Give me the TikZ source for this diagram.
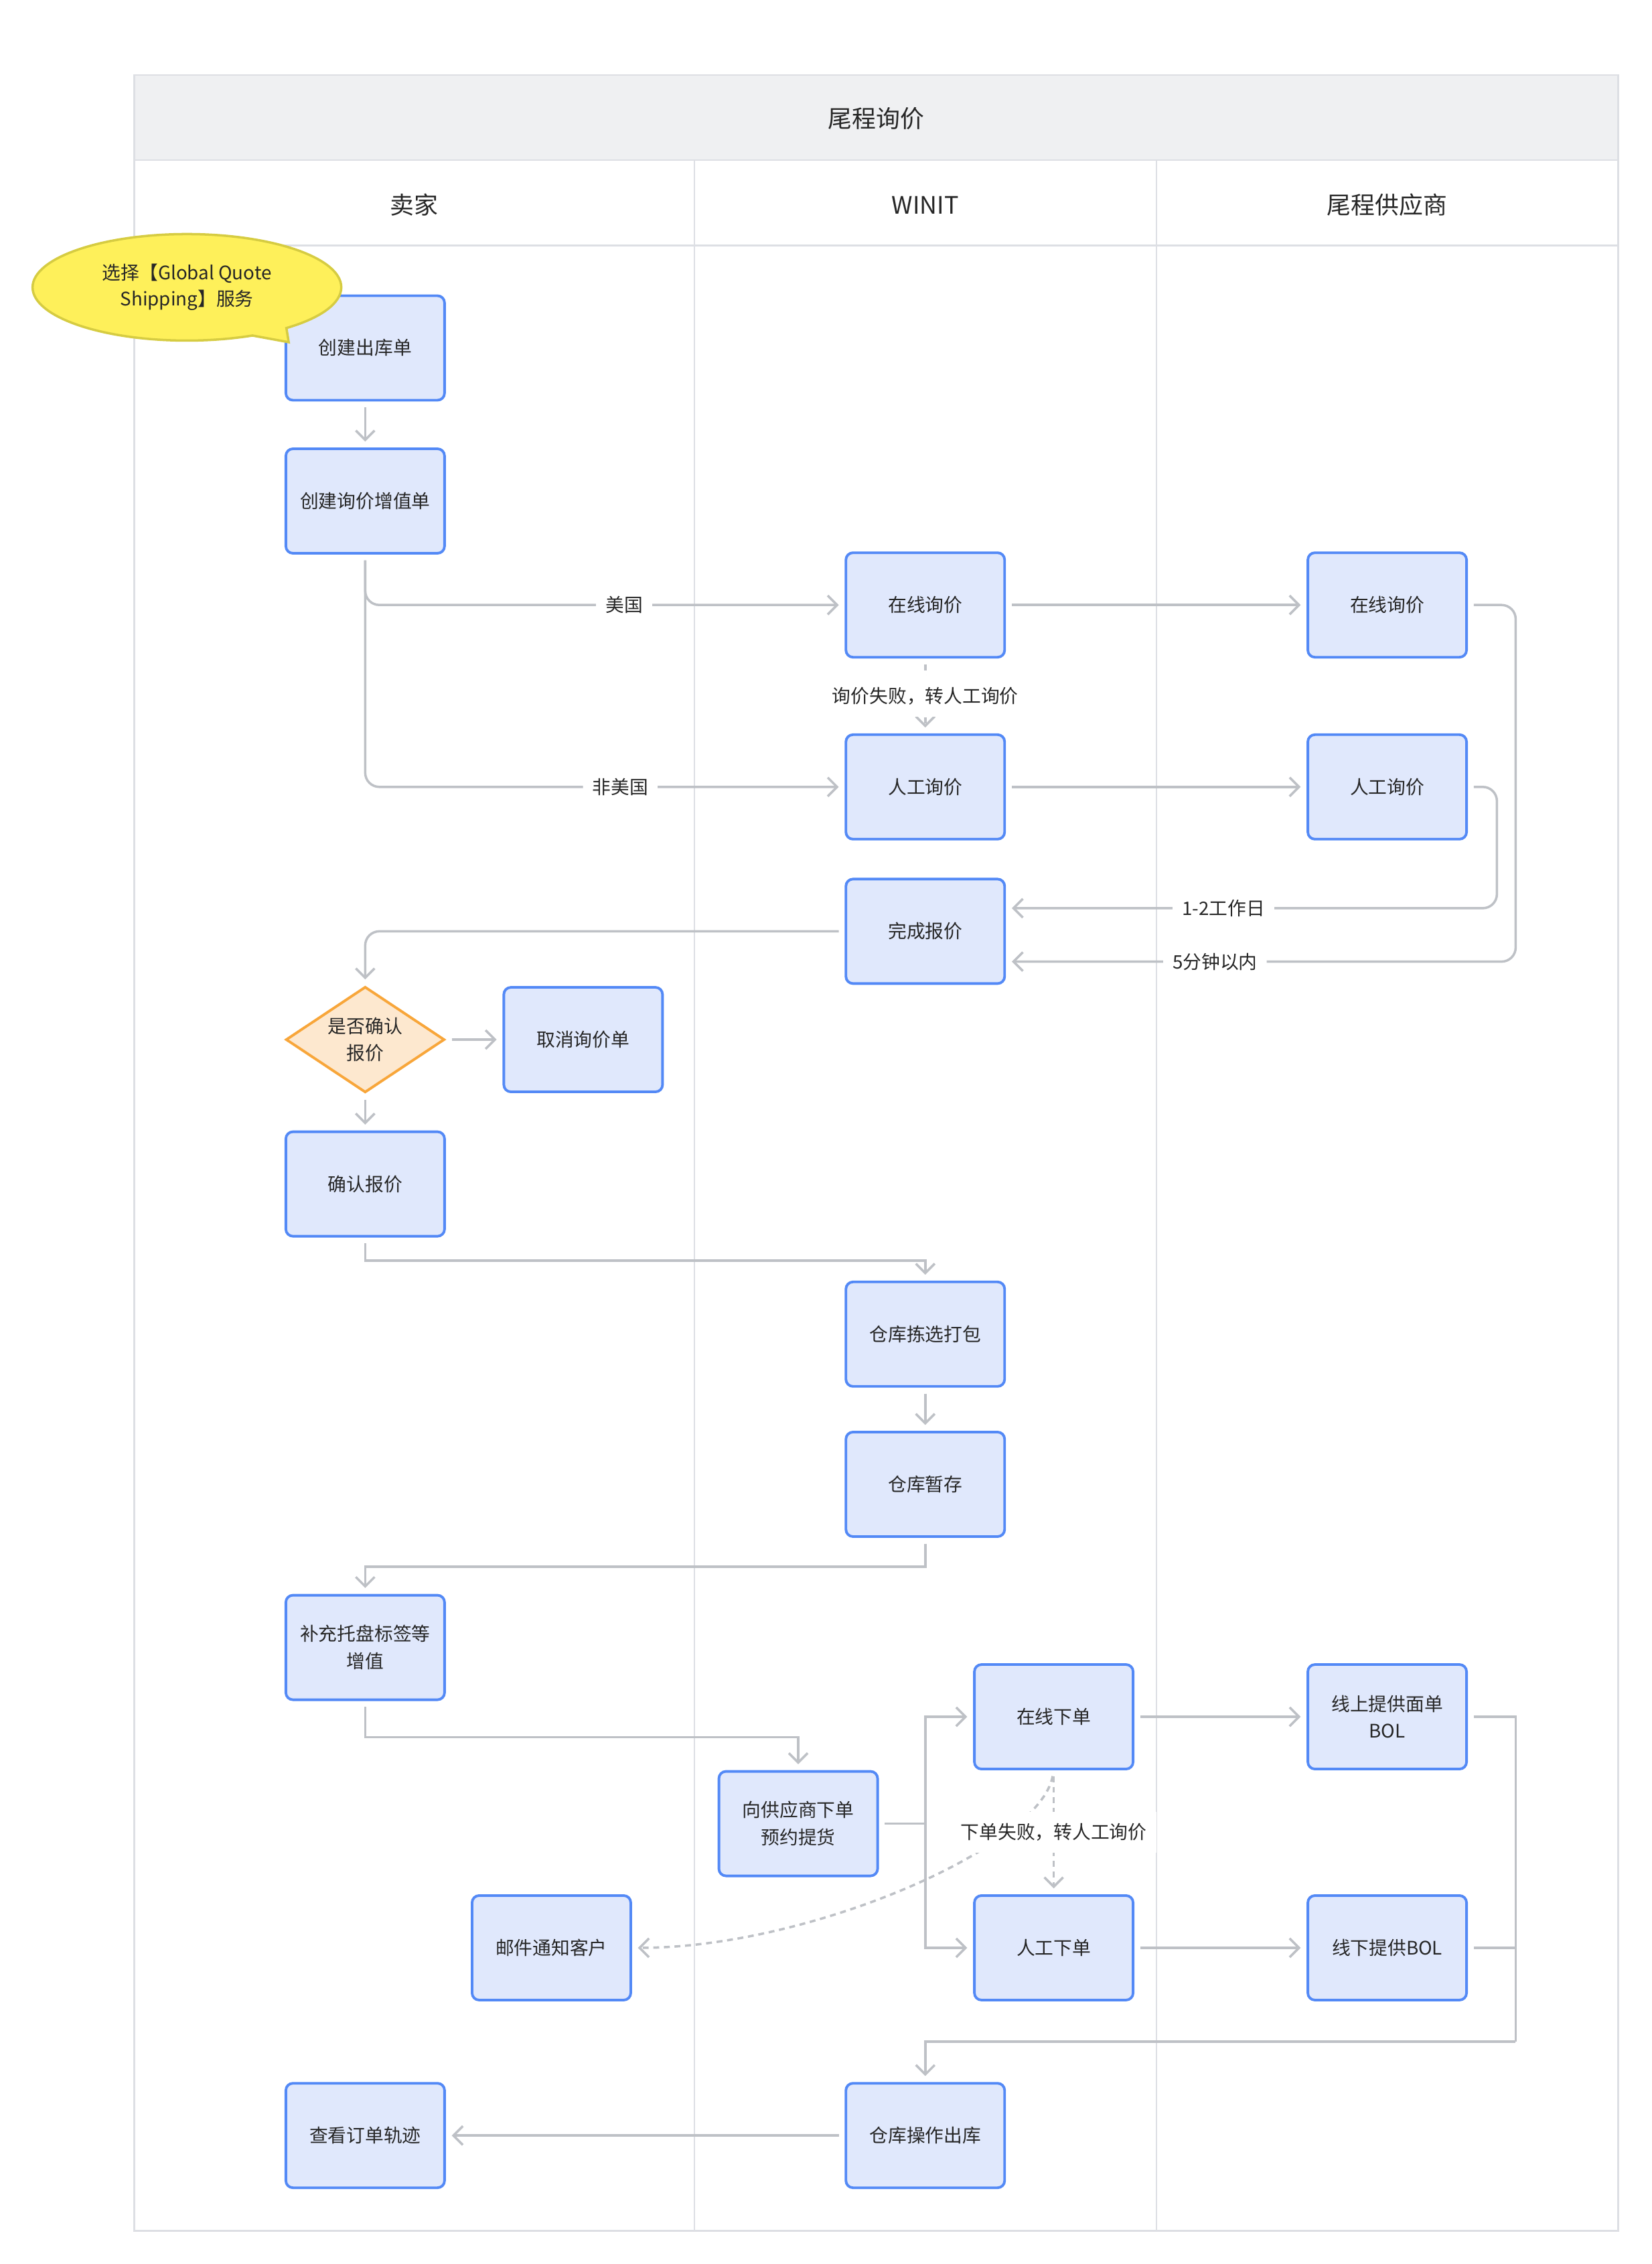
\documentclass[tikz,border=0pt]{standalone}
\usepackage{fontspec}
\setmainfont{Noto Sans CJK SC}
\usetikzlibrary{arrows.meta, shapes.geometric, shapes.callouts}

\definecolor{boxfill}{RGB}{224,232,252}
\definecolor{boxline}{RGB}{83,137,246}
\definecolor{linkgray}{RGB}{190,193,198}
\definecolor{framegray}{RGB}{221,223,228}
\definecolor{headfill}{RGB}{239,240,242}
\definecolor{askfill}{RGB}{253,232,207}
\definecolor{askline}{RGB}{248,166,58}
\definecolor{notefill}{RGB}{254,240,90}
\definecolor{noteline}{RGB}{214,204,66}
\definecolor{ink}{RGB}{38,38,38}

\begin{document}
\begin{tikzpicture}[x=0.21556mm, y=-0.21556mm]

\tikzset{box/.style = {shape=rectangle, rounded corners=3pt, draw=boxline, line width=1.1pt, fill=boxfill, minimum width=23.7mm, minimum height=15.6mm, align=center, text=ink, font=\fontsize{7.9}{11.6}\selectfont}}
\tikzset{ask/.style = {shape=diamond, aspect=1.5, draw=askline, line width=1.1pt, fill=askfill, minimum width=23.7mm, minimum height=15.8mm, inner sep=0pt, align=center, text=ink, font=\fontsize{7.9}{11.6}\selectfont}}
\tikzset{lane/.style = {text=ink, font=\fontsize{10.2}{12}\selectfont}}
\tikzset{lbl/.style = {fill=white, inner xsep=4pt, inner ysep=5pt, text=ink, font=\fontsize{7.9}{10}\selectfont}}
\tikzset{link/.style = {draw=linkgray, line width=1pt}}
\tikzset{branch/.style = {link, -{Straight Barb[length=4pt,width=8pt]}, shorten >=2.5pt}}
\tikzset{edge/.style = {branch, shorten <=2.5pt}}
\tikzset{fail/.style = {dash pattern=on 2.5pt off 2pt}}

\useasboundingbox (0,0) rectangle (1144,1568);
\fill[white] (0,0) rectangle (1144,1568);

% swimlanes
\draw[framegray, line width=0.6pt] (93,111) rectangle (1121,1545);
\draw[framegray, line width=0.6pt, fill=headfill] (93,52) rectangle (1121,111);
\draw[framegray, line width=0.6pt] (93,170) -- (1121,170);
\draw[framegray, line width=0.6pt] (481,111) -- (481,1545);
\draw[framegray, line width=0.6pt] (801,111) -- (801,1545);

\node[lane] (title) at (607,82) {尾程询价};
\node[lane] (lane1) at (287,142) {卖家};
\node[lane] (lane2) at (641,142) {WINIT};
\node[lane] (lane3) at (961,142) {尾程供应商};

% vertices
\node[box] (s1) at (253,241) {创建出库单};
\node[box] (s2) at (253,347) {创建询价增值单};
\node[box] (w1) at (641,419) {在线询价};
\node[box] (v1) at (961,419) {在线询价};
\node[box] (w2) at (641,545) {人工询价};
\node[box] (v2) at (961,545) {人工询价};
\node[box] (w3) at (641,645) {完成报价};
\node[ask] (d1) at (253,720) {是否确认\\报价};
\node[box] (s3) at (404,720) {取消询价单};
\node[box] (s4) at (253,820) {确认报价};
\node[box] (w4) at (641,924) {仓库拣选打包};
\node[box] (w5) at (641,1028) {仓库暂存};
\node[box] (s5) at (253,1141) {补充托盘标签等\\增值};
\node[box] (w6) at (553,1263) {向供应商下单\\预约提货};
\node[box] (w7) at (730,1189) {在线下单};
\node[box] (v3) at (961,1189) {线上提供面单\\BOL};
\node[box] (s6) at (382,1349) {邮件通知客户};
\node[box] (w8) at (730,1349) {人工下单};
\node[box] (v4) at (961,1349) {线下提供BOL};
\node[box] (s7) at (253,1479) {查看订单轨迹};
\node[box] (w9) at (641,1479) {仓库操作出库};

\node[ellipse callout, draw=noteline, fill=notefill, line width=1pt, minimum width=46.1mm, minimum height=15.9mm, callout absolute pointer={(200,237)}, align=center, text=ink, font=\fontsize{7.9}{11}\selectfont] (note) at (129.5,199) {选择【Global Quote\\Shipping】服务};

\coordinate (r1) at (1050,666);
\coordinate (r2) at (1037,629);
\coordinate (fork) at (641,1263);
\coordinate (join) at (1050,1414);

%edges
\draw[edge] (s1) -- (s2);
\draw[edge, rounded corners=6pt] (s2.south) |- node[lbl, pos=0.77] (us) {美国} (w1.west);
\draw[edge, rounded corners=6pt] (s2.south) |- node[lbl, pos=0.766] (nonus) {非美国} (w2.west);
\draw[edge] (w1) -- (v1);
\draw[edge, fail] (w1) -- node[lbl] (fail1) {询价失败，转人工询价} (w2);
\draw[edge] (w2) -- (v2);
\draw[edge, rounded corners=6pt] (v1.east) -| (r1) -- node[lbl, pos=0.59] (fast) {5分钟以内} (r1 -| w3.east);
\draw[edge, rounded corners=6pt] (v2.east) -| (r2) -- node[lbl, pos=0.557] (slow) {1-2工作日} (r2 -| w3.east);
\draw[edge, rounded corners=6pt] (w3.west) -| (d1.north);
\draw[edge] (d1) -- (s3);
\draw[edge] (d1) -- (s4);
\draw[edge] (s4.south) -- ++(0,16) -| (w4.north);
\draw[edge] (w4) -- (w5);
\draw[edge] (w5.south) -- ++(0,20) -| (s5.north);
\draw[edge] (s5.south) -- ++(0,25) -| (w6.north);
\draw[link, shorten <=2.5pt] (w6.east) -- (fork);
\draw[branch] (fork) |- (w7.west);
\draw[branch] (fork) |- (w8.west);
\draw[edge, fail] (w7.south) .. controls (720,1280) and (560,1349) .. (s6.east);
\draw[edge, fail] (w7) -- node[lbl] (fail2) {下单失败，转人工询价} (w8);
\draw[edge] (w7) -- (v3);
\draw[edge] (w8) -- (v4);
\draw[link, shorten <=2.5pt] (v3.east) -| (join);
\draw[link, shorten <=2.5pt] (v4.east) -| (join);
\draw[branch] (join) -| (w9.north);
\draw[edge] (w9) -- (s7);

\end{tikzpicture}
\end{document}
